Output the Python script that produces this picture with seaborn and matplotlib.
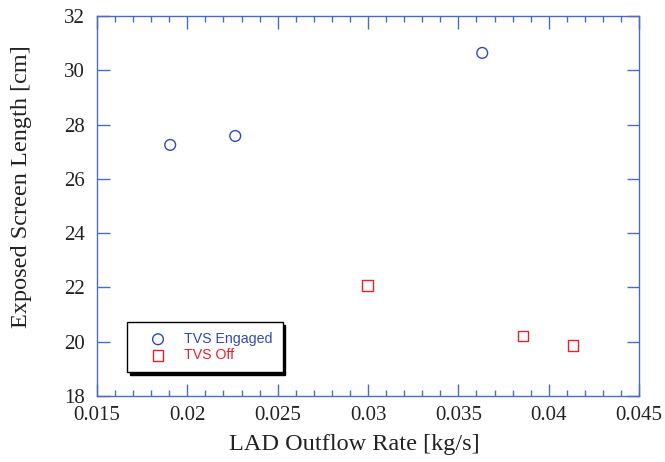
import numpy as np
import pandas as pd
import matplotlib
matplotlib.use('Agg')
import matplotlib.pyplot as plt
import seaborn as sns
from matplotlib.ticker import MultipleLocator

# values
engaged_x = [0.01905, 0.02265, 0.03632]
engaged_y = [27.25, 27.58, 30.64]
off_x = [0.02995, 0.03858, 0.04135]
off_y = [22.07, 20.21, 19.85]
series_names = ['TVS Engaged', 'TVS Off']
x_ticks = [0.015, 0.02, 0.025, 0.03, 0.035, 0.04, 0.045]
x_tick_labels = ['0.015', '0.02', '0.025', '0.03', '0.035', '0.04', '0.045']

axis_blue = '#4a6cc0'
marker_colors = {'TVS Engaged': '#3549ad', 'TVS Off': '#e8202a'}
marker_shapes = {'TVS Engaged': 'o', 'TVS Off': 's'}

df = pd.DataFrame({
    'x': engaged_x + off_x,
    'y': engaged_y + off_y,
    'series': [series_names[0]] * len(engaged_x) + [series_names[1]] * len(off_x),
})

sns.set_style('ticks')
plt.rcParams['font.family'] = ['Liberation Serif', 'DejaVu Serif']

fig = plt.figure(figsize=(6.65, 4.62), dpi=100)
ax = fig.add_axes([0.1459, 0.1429, 0.8151, 0.8225])

for name in series_names:
    sub = df[df['series'] == name]
    sns.scatterplot(data=sub, x='x', y='y', ax=ax, marker=marker_shapes[name],
                    s=60, facecolor='none', edgecolor=marker_colors[name],
                    linewidth=1.0, label=name)

ax.set_xlim(0.015, 0.045)
ax.set_ylim(18, 32)
ax.xaxis.set_minor_locator(MultipleLocator(0.001))
ax.yaxis.set_major_locator(MultipleLocator(2))
ax.set_xticks(x_ticks)
ax.set_xticklabels(x_tick_labels)

ax.tick_params(axis='both', which='both', direction='in', top=True, right=True,
               color=axis_blue, labelsize=15, labelcolor='#222222', width=1.0)
ax.tick_params(which='major', length=9)
ax.tick_params(which='minor', length=4.5)
ax.tick_params(axis='y', pad=9)
ax.tick_params(axis='x', pad=7)
for sp in ax.spines.values():
    sp.set_color(axis_blue)
    sp.set_linewidth(1.0)

ax.set_xlabel('LAD Outflow Rate [kg/s]', fontsize=17.5, color='#222222')
ax.set_ylabel('Exposed Screen Length [cm]', fontsize=17.5, color='#222222')
ax.xaxis.set_label_coords(0.474, -0.1)
ax.yaxis.set_label_coords(-0.12, 0.55)

leg = ax.legend(loc='lower left', bbox_to_anchor=(0.055, 0.063), frameon=True,
                fancybox=False, shadow={'color': 'black', 'alpha': 1.0},
                prop={'family': 'Liberation Sans', 'size': 10.2},
                handletextpad=0.35, borderpad=0.7, labelspacing=0.15,
                borderaxespad=0, handlelength=3.0)
leg.get_frame().set_edgecolor('black')
leg.get_frame().set_linewidth(1.0)
for txt, name in zip(leg.get_texts(), series_names):
    txt.set_color(marker_colors[name])

fig.savefig('out.png', dpi=100)
